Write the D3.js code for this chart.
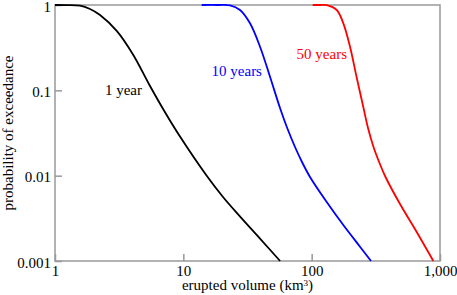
<!DOCTYPE html>
<html>
<head>
<meta charset="utf-8">
<script src="https://cdn.jsdelivr.net/npm/d3@7"></script>
<style>
  body { margin: 0; background: #fff; }
  text { font-family: "Liberation Serif", "Times New Roman", serif; }
</style>
</head>
<body>
<div id="chart"></div>
<script>
// tick values
const xTicks = [1, 10, 100, 1000];
const yTicks = [0.001, 0.01, 0.1, 1];

// volume (km3) and probability of exceedance, one pair of arrays per curve
const vol1 = [1, 1.24, 1.566, 1.874, 2.243, 3.026, 4.053, 5.50, 7.20, 9.42, 15.21, 20.38, 27.7, 39.58, 56.77];
const prob1 = [1, 0.9973, 0.981, 0.898, 0.763, 0.497, 0.263, 0.1124, 0.0553, 0.02869, 0.00996, 0.005623, 0.003313, 0.00183, 0.001];

const vol10 = [13.9, 18.63, 23.11, 27.65, 33.08, 39.59, 47.36, 56.67, 64.26, 74.18, 84.09, 97.05, 131.0, 176.4, 238.0, 290.0];
const prob10 = [1, 1, 0.992, 0.874, 0.61, 0.3246, 0.1444, 0.0621, 0.03667, 0.02167, 0.01446, 0.00965, 0.00491, 0.002641, 0.001471, 0.001];

const vol50 = [101.9, 116, 131.0, 156.7, 176.5, 199.0, 223.6, 253.5, 274.8, 303.3, 337.8, 376.2, 488.0, 658.4, 887.2];
const prob50 = [1, 1, 0.995, 0.874, 0.61, 0.3246, 0.1444, 0.0621, 0.03618, 0.02167, 0.01407, 0.00965, 0.004655, 0.002186, 0.001];

const seriesNames = ["1 year", "10 years", "50 years"];
const seriesColors = ["#000000", "#0000ff", "#ff0000"];
// where each label ends (volume, probability)
const labelVol = [4.76, 41, 188.5];
const labelProb = [0.088, 0.147, 0.233];

const margin = { top: 5, right: 17, bottom: 34, left: 55 };
const width = 457 - margin.left - margin.right;
const height = 295 - margin.top - margin.bottom;

const svg = d3.select("#chart")
    .append("svg")
    .attr("width", width + margin.left + margin.right)
    .attr("height", height + margin.top + margin.bottom)
    .append("g")
    .attr("transform", `translate(${margin.left},${margin.top})`);

const x = d3.scaleLog().domain([1, 1000]).range([0, width]);
const y = d3.scaleLog().domain([0.001, 1]).range([height, 0]);

const fmt = d3.format(",");

const xAxis = svg.append("g")
    .attr("transform", `translate(0,${height})`)
    .call(d3.axisBottom(x).tickValues(xTicks).tickFormat(fmt)
        .tickSizeInner(-7).tickSizeOuter(0).tickPadding(4));

const yAxis = svg.append("g")
    .call(d3.axisLeft(y).tickValues(yTicks).tickFormat(d => String(d))
        .tickSizeInner(-7).tickSizeOuter(0).tickPadding(4));

[xAxis, yAxis].forEach(a => {
    a.select(".domain").remove();
    a.selectAll(".tick line").attr("stroke", "#999").attr("stroke-width", 1.5);
    a.selectAll(".tick text")
        .attr("font-family", "Liberation Serif, serif")
        .attr("font-size", 15)
        .attr("fill", "#000");
});
yAxis.selectAll(".tick text").attr("dy", "0.4em");

// frame
svg.append("rect")
    .attr("x", 0).attr("y", 0)
    .attr("width", width).attr("height", height)
    .attr("fill", "none")
    .attr("stroke", "#999")
    .attr("stroke-width", 1.5);

const line = d3.line()
    .x(d => x(d[0]))
    .y(d => y(d[1]))
    .curve(d3.curveCatmullRom.alpha(0.5));

const series = [
    d3.zip(vol1, prob1),
    d3.zip(vol10, prob10),
    d3.zip(vol50, prob50)
];

series.forEach((s, i) => {
    svg.append("path")
        .datum(s)
        .attr("fill", "none")
        .attr("stroke", seriesColors[i])
        .attr("stroke-width", 1.8)
        .attr("d", line);

    svg.append("text")
        .attr("x", x(labelVol[i]))
        .attr("y", y(labelProb[i]))
        .attr("text-anchor", "end")
        .attr("font-size", 15)
        .attr("fill", seriesColors[i])
        .text(seriesNames[i]);
});

// X-axis label
const xl = svg.append("text")
    .attr("x", width / 2)
    .attr("y", height + 29)
    .attr("text-anchor", "middle")
    .attr("font-size", 15)
    .text("erupted volume (km");
xl.append("tspan").attr("dy", -4).attr("font-size", 9).text("3");
xl.append("tspan").attr("dy", 4).text(")");

// Y-axis label
svg.append("text")
    .attr("transform", "rotate(-90)")
    .attr("x", -height / 2)
    .attr("y", 13 - margin.left)
    .attr("text-anchor", "middle")
    .attr("font-size", 15)
    .text("probability of exceedance");
</script>
</body>
</html>
